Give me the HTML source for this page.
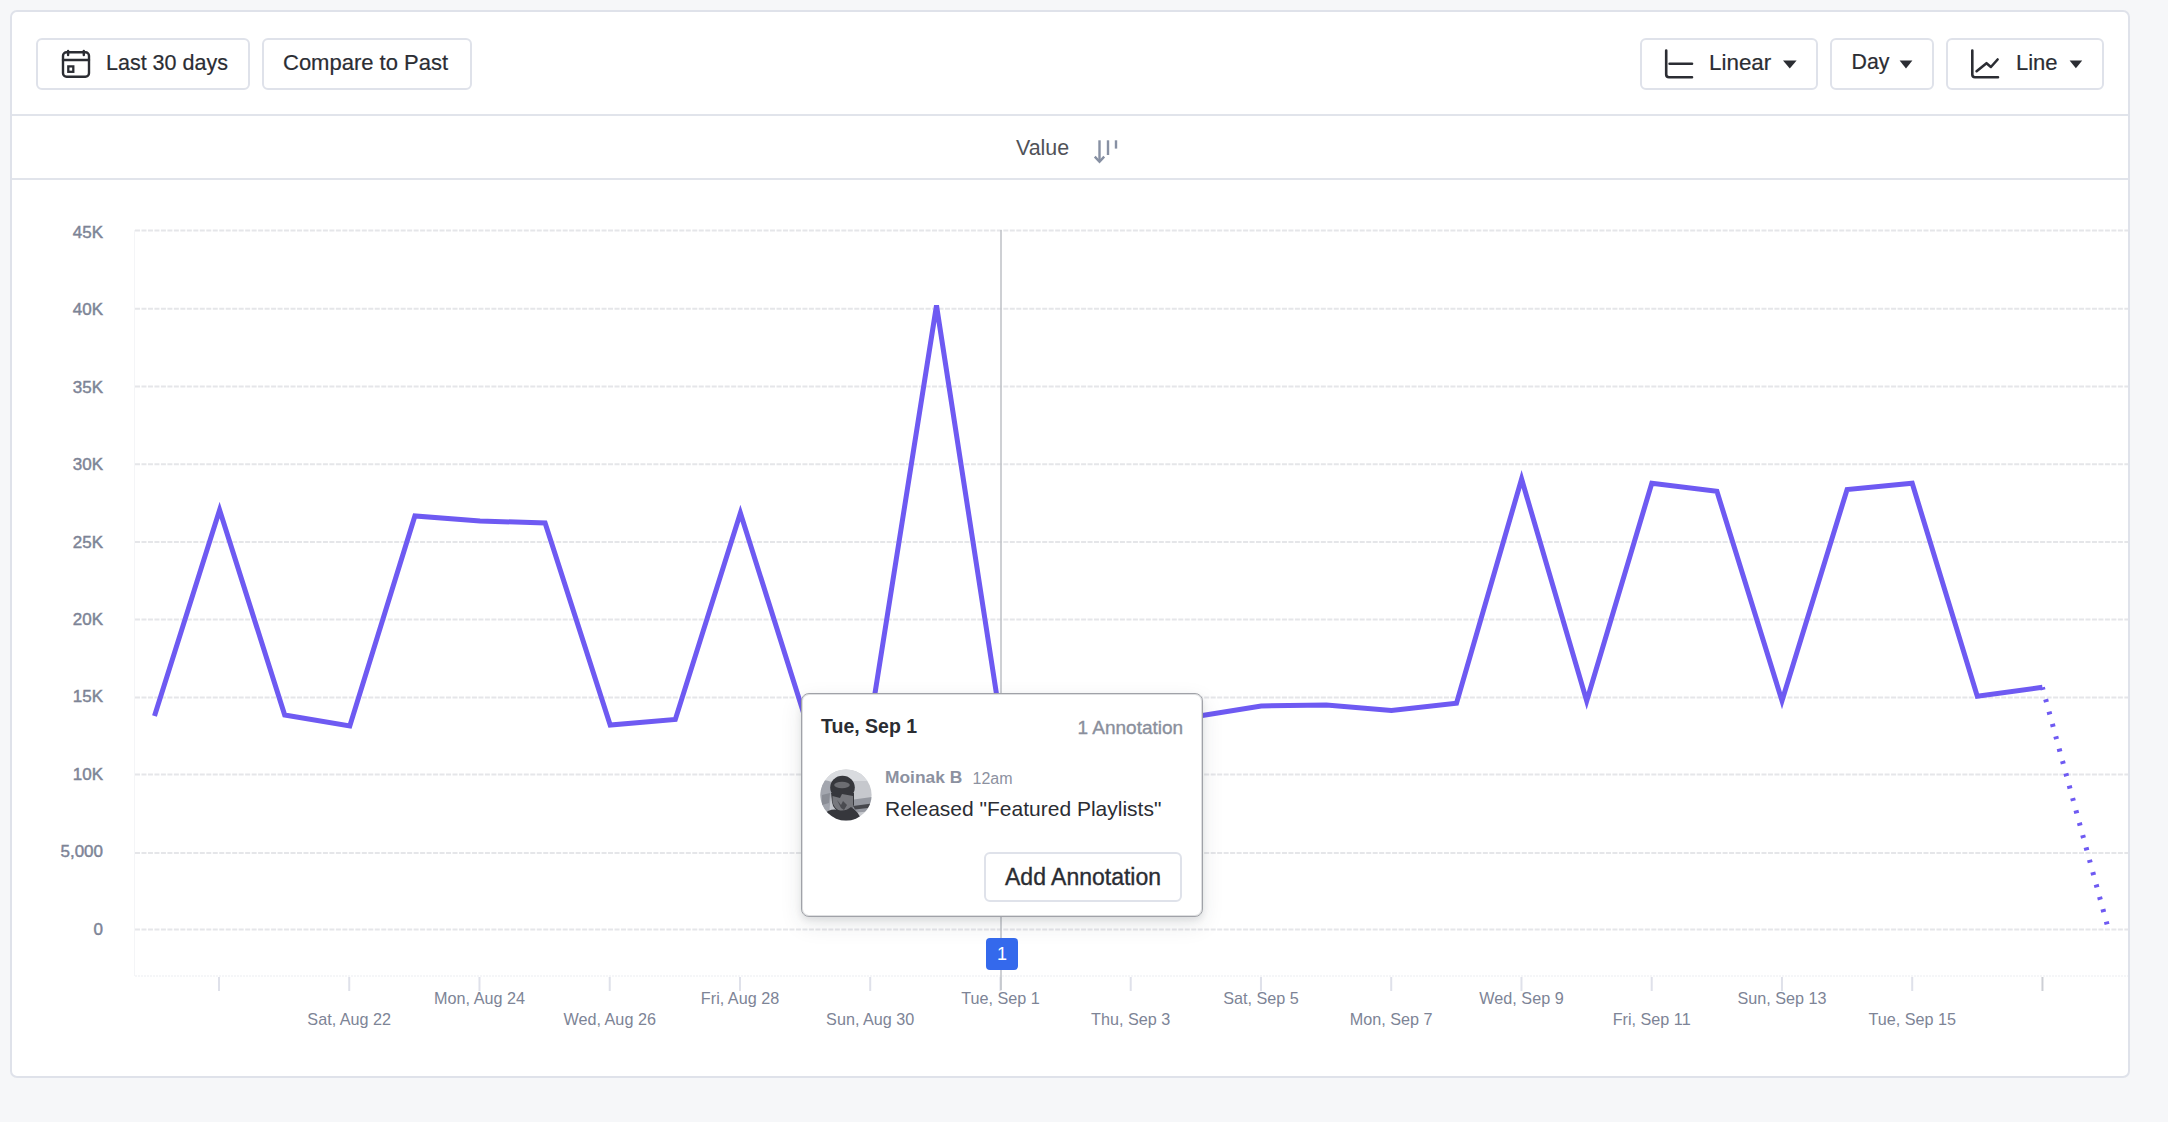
<!DOCTYPE html>
<html>
<head>
<meta charset="utf-8">
<style>
html,body{margin:0;padding:0;}
body{width:2168px;height:1122px;background:#F6F7F9;position:relative;overflow:hidden;font-family:"Liberation Sans",sans-serif;color:#2B2D33;}
.card{position:absolute;left:10px;top:10px;width:2116px;height:1064px;border:2px solid #DFE2EA;border-radius:7px;background:#fff;}
.dv{position:absolute;left:12px;width:2116px;height:2px;background:#E1E4EB;}
.btn{position:absolute;top:38px;height:48px;border:2px solid #DFE2EA;border-radius:6px;background:#fff;}
.t{position:absolute;white-space:nowrap;line-height:1;}
.hb{font-size:22px;top:52px;color:#2B2D33;-webkit-text-stroke:0.2px #2B2D33;}
.yl{font-size:17px;color:#7D8496;-webkit-text-stroke:0.45px #7D8496;right:2065px;text-align:right;}
.xl{font-size:16.2px;color:#7D8496;width:200px;text-align:center;}
svg{position:absolute;left:0;top:0;}
.tip{position:absolute;left:801px;top:693px;width:400px;height:222px;background:#fff;border:1px solid #A0A2A8;border-radius:8px;box-shadow:inset 0 0 0 1px rgba(160,162,168,0.35),0 3px 6px rgba(40,45,60,0.10),0 8px 22px rgba(40,45,60,0.10);}
</style>
</head>
<body>
<div class="card"></div>
<div class="dv" style="top:114px"></div>
<div class="dv" style="top:178px"></div>

<div class="btn" style="left:36px;width:210px"></div>
<div class="btn" style="left:262px;width:206px"></div>
<div class="btn" style="left:1640px;width:174px"></div>
<div class="btn" style="left:1830px;width:100px"></div>
<div class="btn" style="left:1946px;width:154px"></div>

<svg width="2168" height="1122" viewBox="0 0 2168 1122">
<!-- calendar icon -->
<g fill="none" stroke="#2B2D33" stroke-width="2.4" stroke-linecap="round" stroke-linejoin="round">
<rect x="63" y="52.2" width="26" height="24.6" rx="3.6"/>
<line x1="63" y1="60" x2="89" y2="60"/>
<line x1="68.1" y1="51" x2="68.1" y2="55"/>
<line x1="83.8" y1="51" x2="83.8" y2="55"/>
<rect x="68.3" y="66.4" width="5" height="5.4" stroke-width="2.3" stroke-linecap="butt" stroke-linejoin="miter"/>
</g>
<!-- linear axis icon -->
<g fill="none" stroke="#2B2D33" stroke-width="2.6" stroke-linecap="round" stroke-linejoin="round">
<path d="M1666.2 50.6 V74.5 Q1666.2 77.2 1669 77.2 H1692"/>
<path d="M1669.6 63.8 H1692"/>
</g>
<!-- line chart icon -->
<g fill="none" stroke="#2B2D33" stroke-width="2.6" stroke-linecap="round" stroke-linejoin="round">
<path d="M1972.3 50.6 V74.5 Q1972.3 77.2 1975 77.2 H1998"/>
<path d="M1976.6 71.2 L1986.5 63.2 L1990.9 67 L1997.6 59.5"/>
</g>
<!-- carets -->
<path d="M1783 60.6 H1796.6 L1789.8 68.4 Z" fill="#2B2D33"/>
<path d="M1899.6 60.6 H1912.4 L1906 68.4 Z" fill="#2B2D33"/>
<path d="M2069.6 60.6 H2082.2 L2075.9 68.2 Z" fill="#2B2D33"/>
<!-- sort icon -->
<g stroke="#8790A3" stroke-width="2.4" fill="none">
<line x1="1099.5" y1="140.3" x2="1099.5" y2="161"/>
<path d="M1094.8 156.6 L1099.5 161.8 L1104.2 156.6" stroke-linejoin="miter"/>
<line x1="1108" y1="140.3" x2="1108" y2="155"/>
<line x1="1116" y1="140.3" x2="1116" y2="148.6"/>
</g>
<!-- plot frame -->
<line x1="134.5" y1="230" x2="134.5" y2="976" stroke="#F4F5F7" stroke-width="1"/>
<line x1="135" y1="976" x2="2128" y2="976" stroke="#F5F6F8" stroke-width="2" stroke-dasharray="2 1"/>
<line x1="135" y1="929.40" x2="2128" y2="929.40" stroke="#E5E6E9" stroke-width="2" stroke-dasharray="5 1.48"/>
<line x1="135" y1="852.90" x2="2128" y2="852.90" stroke="#E5E6E9" stroke-width="2" stroke-dasharray="5 1.48"/>
<line x1="135" y1="774.50" x2="2128" y2="774.50" stroke="#E5E6E9" stroke-width="2" stroke-dasharray="5 1.48"/>
<line x1="135" y1="697.40" x2="2128" y2="697.40" stroke="#E5E6E9" stroke-width="2" stroke-dasharray="5 1.48"/>
<line x1="135" y1="619.50" x2="2128" y2="619.50" stroke="#E5E6E9" stroke-width="2" stroke-dasharray="5 1.48"/>
<line x1="135" y1="542.00" x2="2128" y2="542.00" stroke="#E5E6E9" stroke-width="2" stroke-dasharray="5 1.48"/>
<line x1="135" y1="464.30" x2="2128" y2="464.30" stroke="#E5E6E9" stroke-width="2" stroke-dasharray="5 1.48"/>
<line x1="135" y1="386.60" x2="2128" y2="386.60" stroke="#E5E6E9" stroke-width="2" stroke-dasharray="5 1.48"/>
<line x1="135" y1="308.70" x2="2128" y2="308.70" stroke="#E5E6E9" stroke-width="2" stroke-dasharray="5 1.48"/>
<line x1="135" y1="230.40" x2="2128" y2="230.40" stroke="#E5E6E9" stroke-width="2" stroke-dasharray="5 1.48"/>

<rect x="217.98" y="977" width="2" height="14" fill="#DFE1EA"/>
<rect x="348.23" y="977" width="2" height="14" fill="#DFE1EA"/>
<rect x="478.48" y="977" width="2" height="14" fill="#DFE1EA"/>
<rect x="608.73" y="977" width="2" height="14" fill="#DFE1EA"/>
<rect x="738.98" y="977" width="2" height="14" fill="#DFE1EA"/>
<rect x="869.22" y="977" width="2" height="14" fill="#DFE1EA"/>
<rect x="999.47" y="977" width="2" height="14" fill="#DFE1EA"/>
<rect x="1129.72" y="977" width="2" height="14" fill="#DFE1EA"/>
<rect x="1259.97" y="977" width="2" height="14" fill="#DFE1EA"/>
<rect x="1390.22" y="977" width="2" height="14" fill="#DFE1EA"/>
<rect x="1520.46" y="977" width="2" height="14" fill="#DFE1EA"/>
<rect x="1650.71" y="977" width="2" height="14" fill="#DFE1EA"/>
<rect x="1780.96" y="977" width="2" height="14" fill="#DFE1EA"/>
<rect x="1911.21" y="977" width="2" height="14" fill="#DFE1EA"/>
<rect x="2041.46" y="977" width="2" height="14" fill="#CDCFD5"/>

<!-- hover line -->
<line x1="1001" y1="230" x2="1001" y2="990" stroke="#BEC0C6" stroke-width="1.5"/>
<polyline points="154.50,716.00 219.60,510.00 284.70,715.00 349.80,726.00 414.90,516.00 480.00,521.00 545.10,523.00 610.20,725.00 675.30,719.50 740.40,513.00 805.50,719.00 870.60,721.00 936.50,305.50 1000.80,722.00 1065.90,726.00 1131.00,723.00 1196.10,716.40 1261.20,706.00 1326.30,705.00 1391.40,710.50 1456.50,703.30 1521.60,479.00 1586.70,701.00 1651.80,483.30 1716.90,491.30 1782.00,700.70 1847.10,489.50 1912.20,483.30 1977.30,696.20 2042.40,687.30" fill="none" stroke="#6E5AF2" stroke-width="5" stroke-linejoin="miter" stroke-miterlimit="4"/>
<line x1="2042.40" y1="687.3" x2="2107.50" y2="926" stroke="#6E5AF2" stroke-width="5" stroke-dasharray="3 9.8" stroke-dashoffset="-12.4"/>
</svg>

<div class="t yl" style="top:920.80px">0</div>
<div class="t yl" style="top:843.35px">5,000</div>
<div class="t yl" style="top:765.90px">10K</div>
<div class="t yl" style="top:688.45px">15K</div>
<div class="t yl" style="top:611.00px">20K</div>
<div class="t yl" style="top:533.55px">25K</div>
<div class="t yl" style="top:456.10px">30K</div>
<div class="t yl" style="top:378.65px">35K</div>
<div class="t yl" style="top:301.20px">40K</div>
<div class="t yl" style="top:223.75px">45K</div>

<div class="t xl" style="left:379.5px;top:990px">Mon, Aug 24</div>
<div class="t xl" style="left:640.0px;top:990px">Fri, Aug 28</div>
<div class="t xl" style="left:900.5px;top:990px">Tue, Sep 1</div>
<div class="t xl" style="left:1161.0px;top:990px">Sat, Sep 5</div>
<div class="t xl" style="left:1421.5px;top:990px">Wed, Sep 9</div>
<div class="t xl" style="left:1682.0px;top:990px">Sun, Sep 13</div>
<div class="t xl" style="left:249.2px;top:1010.5px">Sat, Aug 22</div>
<div class="t xl" style="left:509.7px;top:1010.5px">Wed, Aug 26</div>
<div class="t xl" style="left:770.2px;top:1010.5px">Sun, Aug 30</div>
<div class="t xl" style="left:1030.7px;top:1010.5px">Thu, Sep 3</div>
<div class="t xl" style="left:1291.2px;top:1010.5px">Mon, Sep 7</div>
<div class="t xl" style="left:1551.7px;top:1010.5px">Fri, Sep 11</div>
<div class="t xl" style="left:1812.2px;top:1010.5px">Tue, Sep 15</div>


<div class="t hb" style="left:106px;font-size:21.5px;top:52.5px">Last 30 days</div>
<div class="t hb" style="left:283px;top:51.5px">Compare to Past</div>
<div class="t hb" style="left:1709px;font-size:22.4px">Linear</div>
<div class="t hb" style="left:1851.5px;font-size:21.3px;top:51.8px">Day</div>
<div class="t hb" style="left:2016px">Line</div>
<div class="t" style="left:1016px;top:138.2px;font-size:21.4px;color:#505258">Value</div>

<div class="tip"></div>
<div class="t" style="left:821px;top:717.2px;font-size:19.5px;font-weight:bold;color:#2B2D33">Tue, Sep 1</div>
<div class="t" style="left:1077.5px;top:717.5px;font-size:19px;color:#8A8F9C;-webkit-text-stroke:0.35px #8A8F9C">1 Annotation</div>
<svg style="left:820px;top:768.5px" width="52" height="52" viewBox="0 0 52 52">
<defs><clipPath id="avc"><circle cx="26" cy="26" r="25.6"/></clipPath></defs>
<g clip-path="url(#avc)">
<rect width="52" height="52" fill="#C6C8CD"/>
<rect x="0" y="0" width="52" height="12" fill="#D9DBDF"/>
<path d="M0 12 Q8 10 12 14 L9 46 L0 46 Z" fill="#A3A6AE"/>
<path d="M2 26 L10 24 L9 34 L2 36 Z" fill="#8A8D95"/>
<path d="M30 31 L52 28 L52 42 L33 44 Z" fill="#9598A0"/>
<path d="M33 37 L52 34.5 L52 38.5 L35 40.5 Z" fill="#46474C"/>
<ellipse cx="22.5" cy="18.5" rx="12.3" ry="11.8" fill="#36373C"/>
<path d="M11 24 L34 24 L34 36 Q30 44 22 44 Q13 41 12 33 Z" fill="#36373C"/>
<path d="M12.5 27 L20 29 L22 25 L33 27 L33 38 Q28 44 22 43 Q14 40 12.5 33 Z" fill="#77787D"/>
<path d="M17 31 L21 36 L23 32 L27 36 L24 41 L21 39 Z" fill="#4A4B50"/>
<ellipse cx="22" cy="16" rx="7.8" ry="3.2" fill="#6C6D72"/>
<path d="M3 46 Q10 39 18 41 Q25 43 31 38 Q38 42 42 52 L3 52 Z" fill="#36373C"/>
</g>
</svg>
<div class="t" style="left:885px;top:769px;font-size:17.4px;font-weight:bold;color:#8C91A0">Moinak B</div>
<div class="t" style="left:972.5px;top:770.5px;font-size:16px;color:#8C91A0">12am</div>
<div class="t" style="left:885px;top:798px;font-size:21px;color:#2B2D33">Released "Featured Playlists"</div>
<div style="position:absolute;left:984px;top:852px;width:194px;height:46px;border:2px solid #DFE2EA;border-radius:6px;background:#fff"></div>
<div class="t" style="left:1005px;top:866px;font-size:23px;-webkit-text-stroke:0.35px #2B2D33;color:#2B2D33">Add Annotation</div>
<div style="position:absolute;left:986px;top:938px;width:32px;height:32px;border-radius:4px;background:#3469EC;"></div>
<div class="t" style="left:986px;top:945px;width:32px;text-align:center;font-size:18px;color:#fff">1</div>
</body>
</html>
